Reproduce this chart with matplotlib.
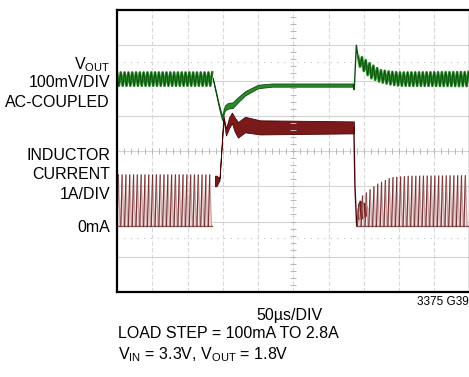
import numpy as np
import matplotlib
matplotlib.use("Agg")
import matplotlib.pyplot as plt

W, H = 469, 377
plt.rcParams['font.family'] = ['Liberation Sans', 'DejaVu Sans']
plt.rcParams['mathtext.fontset'] = 'custom'
plt.rcParams['mathtext.rm'] = 'Liberation Sans'

# scope settings
T_DIV = 50.0       # us per division
V_DIV = 100.0      # mV per division
I_DIV = 1.0        # A per division
VOUT_POS = 6.04    # Vout trace centre (divisions)
IL_ZERO = 2.0      # 0mA marker (divisions)
SW_PERIOD = 5.4    # us, switching ripple period

# ---- Vout, mV relative to trace centre
vout_pre_t = [0, 136]
vout_pre_mid = [0, 0]
vout_pre_amp = [19, 19]

vout_dip_t = [136, 140, 145, 149, 153, 157, 164, 172, 182, 200, 220, 335]
vout_dip_mid = [0, -35, -80, -110, -82, -76, -74, -58, -40, -21, -17, -17]
vout_dip_hw = [3, 4, 5, 6, 7, 8, 8, 7, 6, 5, 4.5, 4.5]

vout_spike_t = [335, 336.5, 339.5, 342]
vout_spike_v = [-17, -30, 96, 60]

vout_post_t = [342, 345, 359, 373, 387, 401, 500]
vout_post_mid = [55, 50, 24, 9, 3, 0, 0]
vout_post_amp = [10, 16, 20, 17, 18, 19, 20]

# ---- inductor current, A
il_valley = -0.13
il_pre_t = [0, 139]
il_pre_pk = [1.32, 1.32]

il_step_t = [139, 141, 145.4, 151, 154.6, 159, 163, 167, 171.6, 181.6, 203, 336]
il_step_mid = [1.15, 1.15, 1.2, 2.95, 2.54, 2.8, 2.94, 2.75, 2.6, 2.75, 2.67, 2.67]
il_step_hw = [0.15, 0.15, 0.03, 0.05, 0.1, 0.15, 0.15, 0.2, 0.22, 0.22, 0.2, 0.17]

il_drop_t = [336, 337.5, 340]
il_drop_v = [2.67, 1.0, -0.13]

il_blob_t = [341, 344, 348, 352, 355]
il_blob_lo = [0.1, 0.05, 0.1, 0.15, 0.2]
il_blob_hi = [0.35, 0.6, 0.55, 0.5, 0.4]

il_post_t = [341, 345, 366, 387, 411, 500]
il_post_pk = [0.5, 0.7, 1.04, 1.24, 1.28, 1.3]

GREEN, GREEN_DK = '#2a8a2a', '#0b4d0b'
RED, RED_DK = '#7a1a1a', '#4a0404'
PINK = '#cfa3a3'


def vdiv(v):
    return VOUT_POS + np.asarray(v) / V_DIV


def idiv(i):
    return IL_ZERO + np.asarray(i) / I_DIV


def ripple(t0, t1, mid_t, mid, amp_t, amp):
    h = SW_PERIOD / 2
    n = int((t1 - t0) / h)
    tt = t0 + np.arange(n + 1) * h
    sign = np.where(np.arange(n + 1) % 2 == 0, 1, -1)
    return tt, np.interp(tt, mid_t, mid) + sign * np.interp(tt, amp_t, amp)


def dcm(t0, t1, pk_t, pk):
    P = SW_PERIOD
    n = int((t1 - t0) / P)
    ts, vs = [], []
    for k in range(n):
        s = t0 + k * P
        p = np.interp(s, pk_t, pk)
        ts += [s, s + 0.35 * P, s + 0.8 * P]
        vs += [il_valley, p, il_valley]
    ts.append(t0 + n * P)
    vs.append(il_valley)
    return np.array(ts), np.array(vs)


def draw_dcm(t, v):
    ax.fill_between(t, idiv(il_valley), idiv(v), color='#f4e4e4', lw=0)
    ax.plot(t, idiv(v), color=PINK, lw=0.9)
    for k in range(0, len(t) - 1, 3):
        ax.plot(t[k:k + 2], idiv(v[k:k + 2]), color=RED_DK, lw=0.8, alpha=0.7)
    ax.plot(t, np.full_like(t, idiv(il_valley)), color=RED_DK, lw=1.0, alpha=0.6)


fig = plt.figure(figsize=(W / 100, H / 100), dpi=100)
ax = fig.add_axes([117 / W, (H - 292) / H, 352.5 / W, 282 / H])
ax.set_xlim(0, 10 * T_DIV)
ax.set_ylim(0, 8)
ax.set_xticks(np.arange(0, 501, T_DIV))
ax.set_yticks(np.arange(0, 9))
ax.tick_params(length=0, labelbottom=False, labelleft=False)
ax.grid(axis='y', color='#d4d4d4', lw=0.8)
ax.grid(axis='x', color='#d8d8d8', lw=0.8, linestyle=(0, (4, 2)))
ax.set_axisbelow(True)
for s in ax.spines.values():
    s.set_linewidth(1.6)

# centre-line tick marks and reference dots
mt = np.arange(0, 500.1, T_DIV / 5)
ax.plot(mt, np.full_like(mt, 4.0), ls='none', marker='|', ms=4, mew=0.7, color='#b8b8b8')
my = np.arange(0, 8.01, 0.2)
ax.plot(np.full_like(my, 250.0), my, ls='none', marker='_', ms=4, mew=0.7, color='#b8b8b8')
for yy in (6.52, 1.53):
    ax.axhline(yy, color='#c4c4c4', lw=0.8, ls=(0, (1, 5)))

# ---- inductor current
t, v = dcm(0, il_pre_t[1], il_pre_t, il_pre_pk)
draw_dcm(t, v)
ax.fill_between(il_step_t, idiv(np.subtract(il_step_mid, il_step_hw)),
                idiv(np.add(il_step_mid, il_step_hw)), color=RED, lw=0.6, ec=RED_DK)
ax.plot(il_drop_t, idiv(il_drop_v), color=RED_DK, lw=1.0)
t, v = dcm(il_post_t[0], 500, il_post_t, il_post_pk)
draw_dcm(t, v)
ax.fill_between(il_blob_t, idiv(il_blob_lo), idiv(il_blob_hi), color=RED, lw=0.5, ec=RED_DK)

# ---- Vout
t, v = ripple(0, vout_pre_t[1], vout_pre_t, vout_pre_mid, vout_pre_t, vout_pre_amp)
ax.plot(t, vdiv(v), color=GREEN, lw=1.9)
ax.plot(t, vdiv(v), color=GREEN_DK, lw=0.6)
ax.fill_between(vout_dip_t, vdiv(np.subtract(vout_dip_mid, vout_dip_hw)),
                vdiv(np.add(vout_dip_mid, vout_dip_hw)), color=GREEN, lw=0.6, ec=GREEN_DK)
ax.plot(vout_spike_t, vdiv(vout_spike_v), color=GREEN_DK, lw=1.0)
t, v = ripple(vout_post_t[0], 500, vout_post_t, vout_post_mid, vout_post_t, vout_post_amp)
ax.plot(t, vdiv(v), color=GREEN, lw=1.9)
ax.plot(t, vdiv(v), color=GREEN_DK, lw=0.6)


# ---- labels
def ftext(px, py, s, **kw):
    return fig.text(px / W, 1 - py / H, s, va='baseline', **kw)


FS = 11.5
ftext(110, 69, r'V$_{\mathrm{OUT}}$', ha='right', fontsize=FS)
ftext(110, 86.7, '100mV/DIV', ha='right', fontsize=FS)
ftext(110, 106.7, 'AC-COUPLED', ha='right', fontsize=FS)
ftext(110, 160, 'INDUCTOR', ha='right', fontsize=FS)
ftext(110, 179.3, 'CURRENT', ha='right', fontsize=FS)
ftext(110, 199.3, '1A/DIV', ha='right', fontsize=FS)
ftext(110, 231.7, '0mA', ha='right', fontsize=FS)

ftext(289.7, 320, '50\u00b5s/DIV', ha='center', fontsize=FS)
ftext(118.3, 338.3, 'LOAD STEP = 100mA TO 2.8A', ha='left', fontsize=FS)
ftext(118.3, 359, r'V$_{\mathrm{IN}}$ = 3.3V, V$_{\mathrm{OUT}}$ = 1.8V', ha='left', fontsize=FS)
ftext(416.7, 305, '3375 G39', ha='left', fontsize=8.5)

fig.savefig('out.png', dpi=100)
